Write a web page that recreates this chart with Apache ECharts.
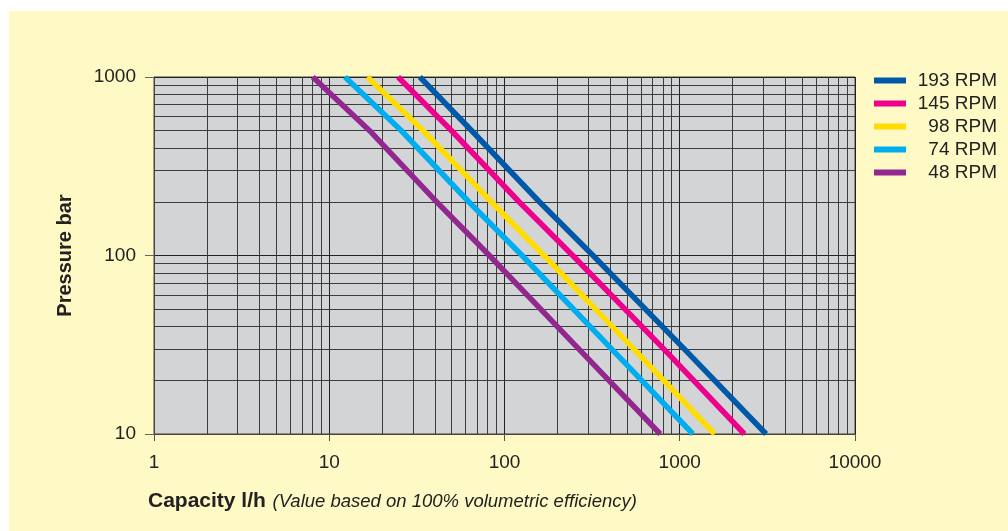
<!DOCTYPE html>
<html>
<head>
<meta charset="utf-8">
<script src="https://cdn.jsdelivr.net/npm/echarts@6/dist/echarts.min.js"></script>
<style>
  html, body { margin: 0; padding: 0; background: #ffffff; }
  #bg { position: absolute; left: 9px; top: 11px; width: 999px; height: 520px; background: #fef9c5; }
  #chart { position: absolute; left: 0; top: 0; width: 1008px; height: 531px; }
</style>
</head>
<body>
<div id="bg"></div>
<div id="chart"></div>
<script>
// ---- data ----
const seriesNames = ['193 RPM', '145 RPM', '98 RPM', '74 RPM', '48 RPM'];
const seriesColors = ['#0059a8', '#ec008c', '#ffdd00', '#00aeef', '#92278f'];
const pressureLevels = [1000, 500, 200, 100, 30, 10];
const capacity193 = [32.9, 65, 158, 320, 1060, 3110];
const capacity145 = [24.7, 49.9, 121, 245, 810, 2338];
const capacity98 = [16.5, 34.4, 84, 168, 546, 1581];
const capacity74 = [12.3, 25.8, 62.5, 126, 408, 1189];
const capacity48 = [8.05, 17.0, 41, 82, 265, 774];
const capacities = [capacity193, capacity145, capacity98, capacity74, capacity48];
const xMinorTicks = [2,3,4,5,6,7,8,9,20,30,40,50,60,70,80,90,200,300,400,500,600,700,800,900,2000,3000,4000,5000,6000,7000,8000,9000];
const yMinorTicks = [20,30,40,50,60,70,80,90,200,300,400,500,600,700,800,900];

const chart = echarts.init(document.getElementById('chart'));
const FONT = 'Liberation Sans, Arial, sans-serif';

const lineSeries = seriesNames.map((name, i) => ({
  name: name,
  type: 'line',
  showSymbol: false,
  symbol: 'none',
  smooth: false,
  z: 5,
  lineStyle: { color: seriesColors[i], width: 5.5, cap: 'butt', join: 'round' },
  itemStyle: { color: seriesColors[i] },
  data: capacities[i].map((c, j) => [c, pressureLevels[j]])
}));

const gridSeries = {
  name: 'minorGrid',
  type: 'line',
  data: [],
  z: 1,
  silent: true,
  markLine: {
    silent: true,
    symbol: ['none', 'none'],
    animation: false,
    label: { show: false },
    lineStyle: { color: '#3c3c3c', width: 1, type: 'solid' },
    emphasis: { disabled: true },
    data: xMinorTicks.map(v => ({ xAxis: v })).concat(yMinorTicks.map(v => ({ yAxis: v })))
  }
};

chart.setOption({
  animation: false,
  backgroundColor: 'transparent',
  textStyle: { fontFamily: FONT },
  grid: {
    left: 154, top: 77, right: 153, bottom: 97,
    show: true, backgroundColor: '#d3d4d6', borderColor: '#444', borderWidth: 1
  },
  legend: {
    orient: 'vertical',
    left: 869, top: 66,
    itemWidth: 32, itemHeight: 6, itemGap: 4,
    icon: 'rect',
    data: seriesNames,
    formatter: n => '{t|' + n + '}',
    textStyle: {
      color: '#222', fontFamily: FONT, fontSize: 19,
      rich: { t: { width: 86, align: 'right', fontSize: 19, fontFamily: FONT, color: '#222', lineHeight: 19 } }
    }
  },
  xAxis: {
    type: 'log', logBase: 10, min: 1, max: 10000,
    axisLine: { show: true, lineStyle: { color: '#444', width: 1 } },
    axisTick: { show: true, length: 7, lineStyle: { color: '#555' } },
    axisLabel: { margin: 19, fontSize: 19, color: '#222', fontFamily: FONT, formatter: v => String(Math.round(v)) },
    splitLine: { show: true, lineStyle: { color: '#222', width: 1 } },
    minorTick: { show: false }, minorSplitLine: { show: false }
  },
  yAxis: {
    type: 'log', logBase: 10, min: 10, max: 1000,
    name: 'Pressure bar', nameLocation: 'middle', nameGap: 79, nameRotate: 90,
    nameTextStyle: { fontSize: 20, fontWeight: 'bold', color: '#222', fontFamily: FONT },
    axisLine: { show: true, lineStyle: { color: '#444', width: 1 } },
    axisTick: { show: true, length: 9, lineStyle: { color: '#666' } },
    axisLabel: { margin: 18, fontSize: 19, color: '#222', fontFamily: FONT, formatter: v => String(Math.round(v)) },
    splitLine: { show: true, lineStyle: { color: '#222', width: 1 } },
    minorTick: { show: false }, minorSplitLine: { show: false }
  },
  graphic: [{
    type: 'text', left: 148, top: 491,
    style: {
      text: '{b|Capacity l/h}  {i|(Value based on 100% volumetric efficiency)}',
      rich: {
        b: { fontSize: 21, fontWeight: 'bold', fontFamily: FONT, fill: '#222' },
        i: { fontSize: 18.5, fontStyle: 'italic', fontFamily: FONT, fill: '#222' }
      }
    }
  }],
  series: [gridSeries].concat(lineSeries)
});
</script>
</body>
</html>
